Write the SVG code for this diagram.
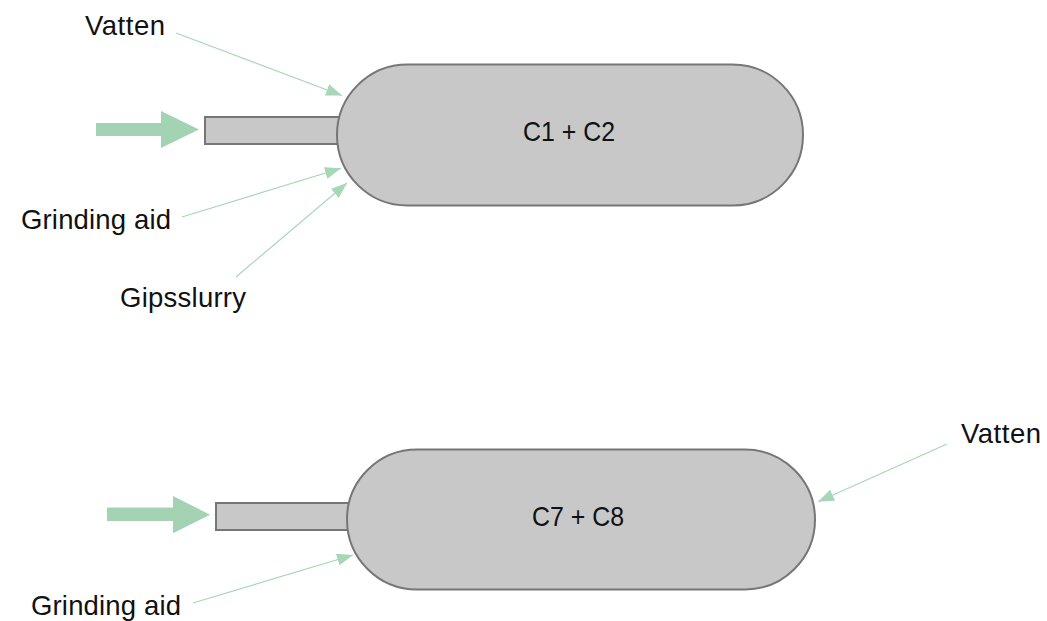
<svg xmlns="http://www.w3.org/2000/svg" width="1047" height="621" viewBox="0 0 1047 621">
<style>
.shape{fill:#c8c8c8;stroke:#767676;stroke-width:2}
.big{fill:#a3d3b3}
.thin{stroke:#a6d7b6;stroke-width:1.2;fill:none;marker-end:url(#ah)}
text{font-family:"Liberation Sans",Arial,sans-serif;font-size:27.5px;fill:#111}
</style>
<defs>
<marker id="ah" markerUnits="userSpaceOnUse" markerWidth="16" markerHeight="12" refX="16" refY="6" orient="auto">
<path d="M0,0 L16,6 L0,12 z" fill="#a6d7b6"/>
</marker>
</defs>
<rect width="1047" height="621" fill="#ffffff"/>
<g id="mill1">
<rect class="shape" x="205" y="117" width="134" height="27"/>
<rect class="shape" x="337" y="64.5" width="466" height="141" rx="70.5" ry="70.5"/>
<text x="569" y="141" text-anchor="middle" textLength="92" lengthAdjust="spacingAndGlyphs">C1 + C2</text>
</g>
<g id="mill2">
<rect class="shape" x="216" y="503" width="133" height="27"/>
<rect class="shape" x="347" y="449.5" width="468" height="140" rx="70" ry="70"/>
<text x="578" y="526" text-anchor="middle" textLength="92" lengthAdjust="spacingAndGlyphs">C7 + C8</text>
</g>
<g id="labels">
<text x="85" y="35" textLength="80">Vatten</text>
<text x="21" y="229" textLength="150">Grinding aid</text>
<text x="120" y="307" textLength="126">Gipsslurry</text>
<text x="31" y="615" textLength="150">Grinding aid</text>
<text x="961" y="443" textLength="80">Vatten</text>
</g>
<g id="connectors">
<polygon class="big" points="96,123 161,123 161,111 199,129.5 161,148 161,136 96,136"/>
<polygon class="big" points="107,507.5 173,507.5 173,496 210,514.7 173,533.3 173,521 107,521"/>
<line class="thin" x1="176" y1="33" x2="342" y2="95.5"/>
<line class="thin" x1="182" y1="217" x2="341" y2="168.3"/>
<line class="thin" x1="236" y1="277" x2="347" y2="183"/>
<line class="thin" x1="193" y1="603" x2="353" y2="555"/>
<line class="thin" x1="947" y1="444" x2="818" y2="501.7"/>
</g>
</svg>
